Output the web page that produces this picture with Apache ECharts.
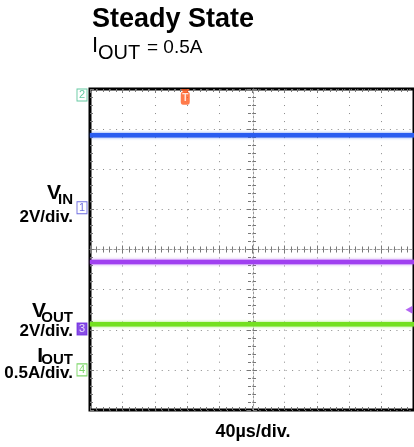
<!DOCTYPE html>
<html>
<head>
<meta charset="utf-8">
<script src="https://cdn.jsdelivr.net/npm/echarts@6/dist/echarts.min.js"></script>
<style>html,body{margin:0;padding:0;background:#fff;}#c{width:414px;height:447px;}</style>
</head>
<body>
<div id="c"></div>
<script>
// ---- data (in scope divisions) ----
const timeSpan = [0, 10];              // horizontal divisions
const vinTrace = [2.85, 2.85];         // blue trace level
const voutTrace = [-0.31, -0.31];      // purple trace level
const ioutTrace = [-1.86, -1.86];      // green trace level
const channelNames = ['2', '1', '3', '4'];
const channelLevels = [3.85, 1.04, -1.98, -3.0];
const triggerTime = 2.94;
const triggerLevel = -1.5;
const titleText = 'Steady State';
const xUnitText = '40µs/div.';

const FONT = '"Liberation Sans", Arial, Helvetica, sans-serif';
const chart = echarts.init(document.getElementById('c'), null, {renderer: 'canvas'});

const GL = 90, GT = 89, GW = 326, GH = 321;

function zip(xs, ys) { return xs.map((x, i) => [x, ys[i]]); }

const chStyles = {
  '2': {fill: '#fff', border: '#3dbb8a', text: '#3dbb8a'},
  '1': {fill: '#fff', border: '#4848d8', text: '#4848d8'},
  '3': {fill: '#6a22e0', border: '#6a22e0', text: '#fff'},
  '4': {fill: '#fff', border: '#5ccc44', text: '#5ccc44'}
};

const tickStyle = {color: '#777', width: 1};
function xAx(pos, offset, showSplit, showLine) {
  return {
    type: 'value', min: 0, max: 10, interval: 1, position: pos, offset: offset,
    axisLine: {show: showLine, onZero: false, lineStyle: {color: '#999', width: 1, type: [2, 2]}},
    axisTick: {show: true, inside: true, length: 4, lineStyle: tickStyle},
    minorTick: {show: true, splitNumber: 5, length: 3, lineStyle: tickStyle},
    axisLabel: {show: false},
    splitLine: {show: showSplit, lineStyle: {color: '#8a8a8a', width: 1, type: [1, 7.02], dashOffset: 0}}
  };
}
function yAx(pos, offset, showSplit, showLine) {
  return {
    type: 'value', min: -4, max: 4, interval: 1, position: pos, offset: offset,
    axisLine: {show: showLine, onZero: false, lineStyle: {color: '#999', width: 1, type: [2, 2]}},
    axisTick: {show: true, inside: true, length: 4, lineStyle: tickStyle},
    minorTick: {show: true, splitNumber: 5, length: 3, lineStyle: tickStyle},
    axisLabel: {show: false},
    splitLine: {show: showSplit, lineStyle: {color: '#8a8a8a', width: 1, type: [1, 5.52], dashOffset: 0}}
  };
}

const option = {
  animation: false,
  backgroundColor: '#fff',
  grid: {left: GL, top: GT, width: GW, height: GH, show: true, borderColor: '#000', borderWidth: 3, backgroundColor: 'transparent'},
  xAxis: [
    xAx('bottom', 0, true, false),
    xAx('top', 0, false, false),
    xAx('bottom', -GH / 2, false, true),
    xAx('top', -GH / 2, false, false)
  ],
  yAxis: [
    yAx('left', 0, true, false),
    yAx('left', -GW / 2, false, true),
    yAx('right', -GW / 2, false, false)
  ],
  series: [
    {type: 'line', data: zip(timeSpan, vinTrace), symbol: 'none', z: 5,
     lineStyle: {color: '#2a5cf0', width: 4.5, shadowColor: 'rgba(42,92,240,0.7)', shadowBlur: 3}},
    {type: 'line', data: zip(timeSpan, voutTrace), symbol: 'none', z: 5,
     lineStyle: {color: '#a040f0', width: 4.5, shadowColor: 'rgba(160,64,240,0.7)', shadowBlur: 3}},
    {type: 'line', data: zip(timeSpan, ioutTrace), symbol: 'none', z: 5,
     lineStyle: {color: '#74e020', width: 4.5, shadowColor: 'rgba(116,224,32,0.7)', shadowBlur: 3}},
    {type: 'scatter', clip: false, z: 10, symbol: 'rect', symbolSize: [10, 12], symbolOffset: [-8, 0],
     data: channelNames.map((n, i) => ({
       name: n, value: [0, channelLevels[i]],
       itemStyle: {color: chStyles[n].fill, borderColor: chStyles[n].border, borderWidth: 1},
       label: {show: true, position: 'inside', formatter: n, color: chStyles[n].text, fontSize: 11, fontFamily: FONT}
     }))},
    {type: 'scatter', clip: false, z: 10, symbol: 'roundRect', symbolSize: [9, 13],
     data: [{value: [triggerTime, 3.77], itemStyle: {color: '#ff5a1e'},
             label: {show: true, position: 'inside', formatter: 'T', color: '#fff', fontSize: 10, fontWeight: 'bold', fontFamily: FONT}}]},
    {type: 'scatter', clip: false, z: 10, symbol: 'triangle', symbolRotate: 180, symbolSize: [9, 6], symbolOffset: [0, 3],
     data: [{value: [triggerTime, 4], itemStyle: {color: '#ff5a1e'}}]},
    {type: 'scatter', clip: false, z: 10, symbol: 'triangle', symbolRotate: 90, symbolSize: [8, 7], symbolOffset: [-5, 0],
     data: [{value: [10, triggerLevel], itemStyle: {color: '#a040f0'}}]}
  ],
  graphic: [
    {type: 'text', x: 92, y: 20, style: {text: titleText, font: 'bold 27px ' + FONT, fill: '#000', align: 'left', verticalAlign: 'middle'}},
    {type: 'text', x: 92, y: 46, style: {text: 'I', font: '22px ' + FONT, fill: '#000', align: 'left', verticalAlign: 'middle'}},
    {type: 'text', x: 98, y: 53, style: {text: 'OUT', font: '20px ' + FONT, fill: '#000', align: 'left', verticalAlign: 'middle'}},
    {type: 'text', x: 147, y: 47.5, style: {text: '= 0.5A', font: '19px ' + FONT, fill: '#000', align: 'left', verticalAlign: 'middle'}},

    {type: 'text', x: 61, y: 193.5, style: {text: 'V', font: 'bold 21px ' + FONT, fill: '#000', align: 'right', verticalAlign: 'middle'}},
    {type: 'text', x: 73, y: 200, style: {text: 'IN', font: 'bold 15px ' + FONT, fill: '#000', align: 'right', verticalAlign: 'middle'}},
    {type: 'text', x: 73, y: 217.5, style: {text: '2V/div.', font: 'bold 17px ' + FONT, fill: '#000', align: 'right', verticalAlign: 'middle'}},

    {type: 'text', x: 46, y: 311.5, style: {text: 'V', font: 'bold 21px ' + FONT, fill: '#000', align: 'right', verticalAlign: 'middle'}},
    {type: 'text', x: 73, y: 318, style: {text: 'OUT', font: 'bold 15px ' + FONT, fill: '#000', align: 'right', verticalAlign: 'middle'}},
    {type: 'text', x: 73, y: 331.5, style: {text: '2V/div.', font: 'bold 17px ' + FONT, fill: '#000', align: 'right', verticalAlign: 'middle'}},

    {type: 'text', x: 43, y: 356, style: {text: 'I', font: 'bold 21px ' + FONT, fill: '#000', align: 'right', verticalAlign: 'middle'}},
    {type: 'text', x: 73, y: 360, style: {text: 'OUT', font: 'bold 15px ' + FONT, fill: '#000', align: 'right', verticalAlign: 'middle'}},
    {type: 'text', x: 73, y: 373.5, style: {text: '0.5A/div.', font: 'bold 17px ' + FONT, fill: '#000', align: 'right', verticalAlign: 'middle'}},

    {type: 'text', x: 253, y: 432, style: {text: xUnitText, font: 'bold 18px ' + FONT, fill: '#000', align: 'center', verticalAlign: 'middle'}}
  ]
};
chart.setOption(option);
</script>
</body>
</html>
